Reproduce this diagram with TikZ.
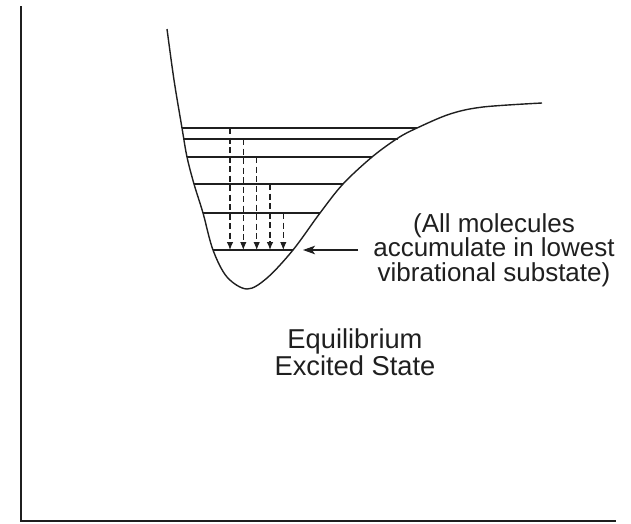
\documentclass[tikz,border=0pt]{standalone}
\usepackage{fontspec}
\setmainfont{Liberation Sans}
\usetikzlibrary{arrows.meta}
\begin{document}
\begin{tikzpicture}[x=1pt,y=-1pt,
  ink/.style={color=black!88},
  curve/.style={ink,line width=1.4pt},
  level/.style={ink,line width=1.2pt},
  drop/.style={ink,line width=1.1pt,dash pattern=on 6pt off 3.5pt,-{Latex[length=8pt,width=6.5pt]}},
  pointer/.style={ink,line width=1.2pt,-{Stealth[length=12pt,width=8.5pt,inset=3pt]}},
  lbl/.style={ink,align=center,font=\fontsize{26}{24.5}\selectfont,inner sep=0pt},
  biglbl/.style={lbl,font=\fontsize{27.3}{25}\selectfont}]
\useasboundingbox (0,0) rectangle (631,523);
% axes
\draw[ink,line width=1.8pt] (21,6) -- (21,521) -- (616,521);
% potential well
\draw[curve] plot[smooth,tension=0.55] coordinates {
 (167,29) (174,80) (182,128) (187,157) (194,184) (203,213) (213,250)
 (227,277) (247,289) (267,278) (293,250) (320,213) (343,184)
 (372,157) (398,138) (417,128) (450,114) (483,107) (542,103)};
% vibrational levels
\coordinate (l1a) at (182,128); \coordinate (l1b) at (417,128);
\coordinate (l2a) at (183.5,139); \coordinate (l2b) at (398,139);
\coordinate (l3a) at (187,157); \coordinate (l3b) at (372,157);
\coordinate (l4a) at (194,184); \coordinate (l4b) at (343,184);
\coordinate (l5a) at (203,213); \coordinate (l5b) at (320,213);
\coordinate (l6a) at (213,250); \coordinate (l6b) at (293,250);
\foreach \i in {1,...,6}{\draw[level] (l\i a) -- (l\i b);}
% relaxation arrows
\coordinate (d1s) at (230,128); \coordinate (d1e) at (230,250);
\coordinate (d2s) at (243.3,139); \coordinate (d2e) at (243.3,250);
\coordinate (d3s) at (256.7,157); \coordinate (d3e) at (256.7,250);
\coordinate (d4s) at (270,184); \coordinate (d4e) at (270,250);
\coordinate (d5s) at (283.3,213); \coordinate (d5e) at (283.3,250);
\foreach \i in {1,...,5}{\draw[drop] (d\i s) -- (d\i e);}
% labels
\node[lbl,anchor=base] (note) at (494,281) {(All molecules\\accumulate in lowest\\vibrational substate)};
\coordinate (ptail) at (358,250);
\coordinate (phead) at (303,250);
\draw[pointer] (ptail) -- (phead);
\node[biglbl,anchor=base] (state) at (355,375) {Equilibrium\\Excited State};
\end{tikzpicture}
\end{document}
